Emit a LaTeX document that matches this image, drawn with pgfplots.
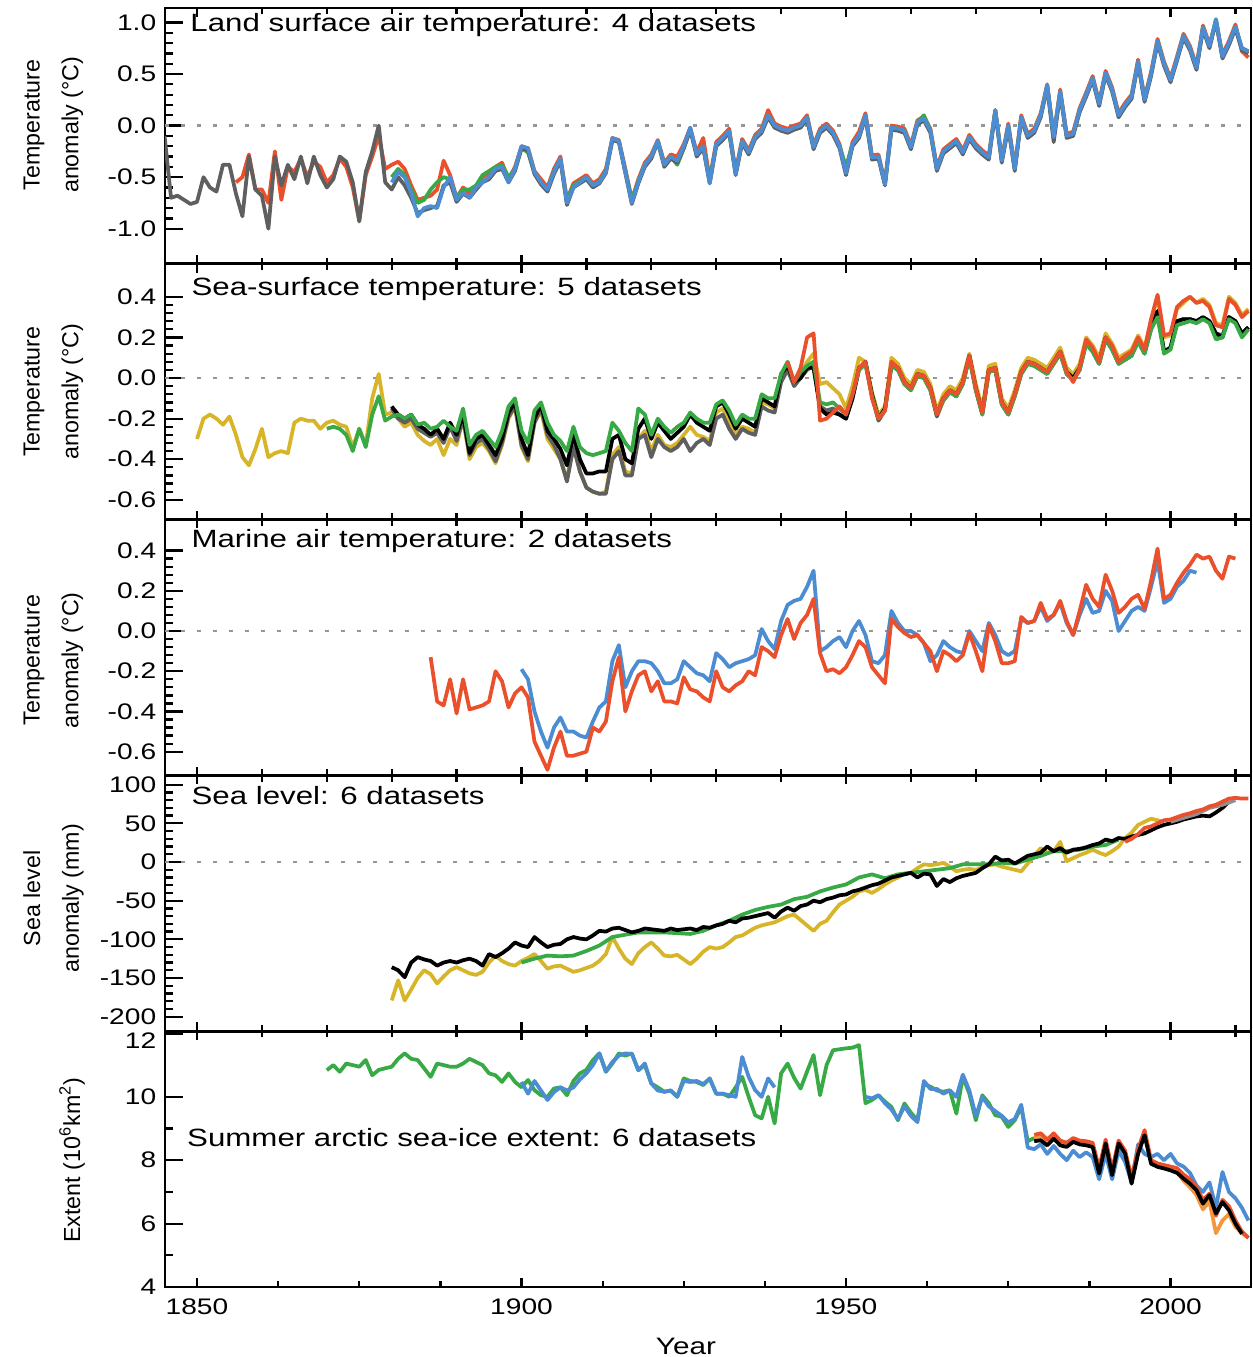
\documentclass[border=0pt]{standalone}
\usepackage{fontspec}
\setmainfont{Liberation Sans}
\newfontfamily\wide{Liberation Sans}[FakeStretch=1.25]
\usepackage{pgfplots}
\usepackage{pgfplotstable}
\pgfplotsset{compat=1.18}
\definecolor{cred}{RGB}{235,80,45}
\definecolor{cblue}{RGB}{75,140,210}
\definecolor{cgreen}{RGB}{55,170,70}
\definecolor{cgray}{RGB}{95,95,95}
\definecolor{cyellow}{RGB}{215,180,40}
\definecolor{corange}{RGB}{245,150,60}
\definecolor{cdot}{RGB}{150,150,150}

\pgfplotstableread{
year gray red green blue
1845 -0.10 nan nan nan
1846 -0.70 nan nan nan
1847 -0.68 nan nan nan
1848 -0.72 nan nan nan
1849 -0.76 nan nan nan
1850 -0.74 nan nan nan
1851 -0.50 nan nan nan
1852 -0.60 nan nan nan
1853 -0.64 nan nan nan
1854 -0.38 nan nan nan
1855 -0.38 nan nan nan
1856 -0.66 -0.55 nan nan
1857 -0.88 -0.50 nan nan
1858 -0.30 -0.28 nan nan
1859 -0.62 -0.62 nan nan
1860 -0.68 -0.62 nan nan
1861 -1.00 -0.75 nan nan
1862 -0.30 -0.25 nan nan
1863 -0.58 -0.72 nan nan
1864 -0.38 -0.40 nan nan
1865 -0.52 -0.45 nan nan
1866 -0.30 -0.32 nan nan
1867 -0.56 -0.50 nan nan
1868 -0.30 -0.35 nan nan
1869 -0.48 -0.40 nan nan
1870 -0.60 -0.55 nan nan
1871 -0.52 -0.48 nan nan
1872 -0.30 -0.32 nan nan
1873 -0.35 -0.40 nan nan
1874 -0.55 -0.60 nan nan
1875 -0.93 -0.92 nan nan
1876 -0.45 -0.48 nan nan
1877 -0.25 -0.30 nan nan
1878 0.00 -0.10 nan nan
1879 -0.55 -0.42 nan nan
1880 -0.62 -0.38 -0.50 -0.55
1881 -0.50 -0.35 -0.42 -0.45
1882 -0.58 -0.42 -0.48 -0.50
1883 -0.70 -0.58 -0.62 -0.65
1884 -0.85 -0.72 -0.75 -0.88
1885 -0.82 -0.70 -0.72 -0.80
1886 -0.80 -0.68 -0.62 -0.78
1887 -0.78 -0.62 -0.55 -0.80
1888 -0.58 -0.34 -0.50 -0.60
1889 -0.55 -0.48 -0.52 -0.50
1890 -0.74 -0.70 -0.70 -0.72
1891 -0.66 -0.60 -0.62 -0.65
1892 -0.70 -0.66 -0.62 -0.70
1893 -0.62 -0.62 -0.58 -0.60
1894 -0.55 -0.50 -0.48 -0.55
1895 -0.52 -0.46 -0.44 -0.50
1896 -0.44 -0.40 -0.40 -0.42
1897 -0.42 -0.36 -0.38 -0.40
1898 -0.55 -0.52 -0.50 -0.55
1899 -0.44 -0.40 -0.42 -0.42
1900 -0.22 -0.20 -0.22 -0.20
1901 -0.24 -0.22 -0.26 -0.22
1902 -0.47 -0.44 -0.46 -0.45
1903 -0.57 -0.52 -0.55 -0.55
1904 -0.64 -0.60 -0.62 -0.62
1905 -0.47 -0.42 -0.44 -0.45
1906 -0.34 -0.30 -0.33 -0.32
1907 -0.77 -0.72 -0.72 -0.75
1908 -0.60 -0.56 -0.58 -0.60
1909 -0.56 -0.52 -0.54 -0.55
1910 -0.52 -0.48 -0.50 -0.50
1911 -0.60 -0.56 -0.58 -0.58
1912 -0.56 -0.52 -0.54 -0.55
1913 -0.46 -0.42 -0.44 -0.45
1914 -0.14 -0.12 -0.14 -0.12
1915 -0.16 -0.14 -0.15 -0.15
1916 -0.46 -0.42 -0.44 -0.45
1917 -0.76 -0.72 -0.72 -0.75
1918 -0.56 -0.52 -0.54 -0.55
1919 -0.40 -0.36 -0.38 -0.38
1920 -0.32 -0.28 -0.30 -0.30
1921 -0.16 -0.14 -0.15 -0.15
1922 -0.40 -0.36 -0.38 -0.38
1923 -0.32 -0.28 -0.30 -0.30
1924 -0.36 -0.30 -0.38 -0.34
1925 -0.22 -0.18 -0.22 -0.20
1926 -0.04 -0.02 -0.04 -0.02
1927 -0.30 -0.26 -0.28 -0.28
1928 -0.22 -0.12 -0.20 -0.20
1929 -0.56 -0.52 -0.54 -0.56
1930 -0.20 -0.16 -0.18 -0.18
1931 -0.14 -0.10 -0.12 -0.12
1932 -0.07 -0.03 -0.06 -0.05
1933 -0.48 -0.44 -0.46 -0.47
1934 -0.17 -0.13 -0.15 -0.15
1935 -0.28 -0.24 -0.26 -0.26
1936 -0.13 -0.09 -0.11 -0.11
1937 -0.07 -0.03 -0.05 -0.05
1938 0.08 0.15 0.10 0.10
1939 -0.02 0.02 0.00 0.00
1940 -0.05 -0.01 -0.04 -0.03
1941 -0.07 -0.03 -0.06 -0.05
1942 -0.04 0.00 -0.03 -0.02
1943 -0.02 0.02 0.00 0.00
1944 0.06 0.10 0.08 0.08
1945 -0.23 -0.19 -0.21 -0.21
1946 -0.07 -0.03 -0.05 -0.05
1947 -0.02 0.02 0.00 0.00
1948 -0.09 -0.05 -0.07 -0.07
1949 -0.22 -0.18 -0.20 -0.20
1950 -0.48 -0.44 -0.40 -0.46
1951 -0.20 -0.16 -0.18 -0.18
1952 -0.12 -0.06 -0.10 -0.10
1953 0.08 0.12 0.10 0.10
1954 -0.33 -0.29 -0.31 -0.31
1955 -0.32 -0.28 -0.30 -0.30
1956 -0.58 -0.55 -0.57 -0.57
1957 -0.04 0.00 -0.02 -0.02
1958 -0.05 -0.01 -0.03 -0.03
1959 -0.07 -0.03 -0.05 -0.05
1960 -0.23 -0.19 -0.21 -0.21
1961 0.01 0.05 0.03 0.03
1962 0.05 0.09 0.10 0.07
1963 -0.07 -0.03 -0.05 -0.05
1964 -0.44 -0.40 -0.42 -0.42
1965 -0.27 -0.23 -0.25 -0.25
1966 -0.22 -0.18 -0.20 -0.20
1967 -0.17 -0.13 -0.15 -0.15
1968 -0.28 -0.24 -0.26 -0.26
1969 -0.13 -0.09 -0.11 -0.11
1970 -0.22 -0.18 -0.20 -0.20
1971 -0.28 -0.24 -0.26 -0.26
1972 -0.33 -0.29 -0.31 -0.31
1973 0.13 0.15 0.15 0.15
1974 -0.36 -0.32 -0.34 -0.34
1975 -0.02 0.02 0.00 0.00
1976 -0.44 -0.40 -0.42 -0.42
1977 0.06 0.10 0.08 0.08
1978 -0.12 -0.08 -0.10 -0.10
1979 -0.07 -0.03 -0.05 -0.05
1980 0.08 0.12 0.10 0.10
1981 0.37 0.40 0.39 0.39
1982 -0.16 -0.09 -0.11 -0.11
1983 0.31 0.35 0.33 0.33
1984 -0.12 -0.08 -0.10 -0.10
1985 -0.10 -0.06 -0.08 -0.08
1986 0.13 0.17 0.15 0.15
1987 0.28 0.32 0.30 0.30
1988 0.44 0.48 0.46 0.46
1989 0.19 0.23 0.21 0.21
1990 0.49 0.53 0.51 0.51
1991 0.33 0.37 0.35 0.35
1992 0.08 0.12 0.10 0.10
1993 0.18 0.22 0.20 0.20
1994 0.26 0.30 0.28 0.28
1995 0.60 0.64 0.62 0.62
1996 0.23 0.27 0.25 0.25
1997 0.48 0.52 0.50 0.50
1998 0.80 0.84 0.82 0.82
1999 0.58 0.62 0.60 0.60
2000 0.42 0.46 0.44 0.44
2001 0.63 0.67 0.65 0.65
2002 0.85 0.89 0.87 0.87
2003 0.73 0.77 0.75 0.75
2004 0.54 0.58 0.56 0.56
2005 0.93 0.97 0.95 0.95
2006 0.75 0.79 0.77 0.77
2007 1.01 1.00 1.03 1.03
2008 0.65 0.69 0.67 0.67
2009 0.78 0.82 0.80 0.80
2010 0.94 0.98 0.96 0.96
2011 0.73 0.72 0.75 0.75
2012 0.70 0.66 0.72 0.72
}\landtab

\pgfplotstableread{
year yellow green gray black red
1850 -0.30 nan nan nan nan
1851 -0.20 nan nan nan nan
1852 -0.18 nan nan nan nan
1853 -0.20 nan nan nan nan
1854 -0.23 nan nan nan nan
1855 -0.19 nan nan nan nan
1856 -0.28 nan nan nan nan
1857 -0.39 nan nan nan nan
1858 -0.43 nan nan nan nan
1859 -0.35 nan nan nan nan
1860 -0.25 nan nan nan nan
1861 -0.39 nan nan nan nan
1862 -0.37 nan nan nan nan
1863 -0.36 nan nan nan nan
1864 -0.37 nan nan nan nan
1865 -0.22 nan nan nan nan
1866 -0.20 nan nan nan nan
1867 -0.21 nan nan nan nan
1868 -0.21 nan nan nan nan
1869 -0.25 nan nan nan nan
1870 -0.22 -0.25 nan nan nan
1871 -0.21 -0.24 nan nan nan
1872 -0.23 -0.25 nan nan nan
1873 -0.24 -0.28 nan nan nan
1874 -0.34 -0.36 nan nan nan
1875 -0.25 -0.25 nan nan nan
1876 -0.33 -0.34 nan nan nan
1877 -0.10 -0.18 nan nan nan
1878 0.02 -0.09 nan nan nan
1879 -0.18 -0.21 nan nan nan
1880 -0.17 -0.19 -0.15 -0.14 nan
1881 -0.20 -0.18 -0.20 -0.18 nan
1882 -0.24 -0.20 -0.22 -0.20 nan
1883 -0.22 -0.18 -0.20 -0.18 nan
1884 -0.28 -0.23 -0.25 -0.23 nan
1885 -0.31 -0.22 -0.27 -0.25 nan
1886 -0.33 -0.25 -0.29 -0.28 nan
1887 -0.30 -0.24 -0.27 -0.25 nan
1888 -0.38 -0.21 -0.32 -0.30 nan
1889 -0.30 -0.24 -0.24 -0.22 nan
1890 -0.33 -0.26 -0.31 -0.28 nan
1891 -0.20 -0.15 -0.20 -0.18 nan
1892 -0.40 -0.33 -0.38 -0.37 nan
1893 -0.34 -0.28 -0.32 -0.30 nan
1894 -0.32 -0.26 -0.30 -0.28 nan
1895 -0.36 -0.30 -0.35 -0.33 nan
1896 -0.42 -0.34 -0.41 -0.38 nan
1897 -0.33 -0.26 -0.32 -0.30 nan
1898 -0.20 -0.14 -0.19 -0.17 nan
1899 -0.14 -0.10 -0.14 -0.12 nan
1900 -0.34 -0.26 -0.33 -0.30 nan
1901 -0.41 -0.32 -0.40 -0.38 nan
1902 -0.22 -0.16 -0.22 -0.20 nan
1903 -0.16 -0.12 -0.15 -0.13 nan
1904 -0.30 -0.22 -0.28 -0.26 nan
1905 -0.35 -0.28 -0.33 -0.30 nan
1906 -0.40 -0.31 -0.40 -0.35 nan
1907 -0.50 -0.36 -0.51 -0.43 nan
1908 -0.33 -0.24 -0.34 -0.28 nan
1909 -0.46 -0.34 -0.46 -0.40 nan
1910 -0.54 -0.37 -0.54 -0.47 nan
1911 -0.56 -0.38 -0.56 -0.47 nan
1912 -0.57 -0.37 -0.57 -0.46 nan
1913 -0.56 -0.36 -0.57 -0.46 nan
1914 -0.38 -0.22 -0.40 -0.30 nan
1915 -0.34 -0.26 -0.36 -0.28 nan
1916 -0.46 -0.32 -0.48 -0.40 nan
1917 -0.47 -0.36 -0.48 -0.42 nan
1918 -0.30 -0.15 -0.30 -0.25 nan
1919 -0.26 -0.18 -0.28 -0.20 nan
1920 -0.36 -0.28 -0.39 -0.30 nan
1921 -0.28 -0.20 -0.30 -0.22 nan
1922 -0.33 -0.24 -0.34 -0.26 nan
1923 -0.34 -0.27 -0.36 -0.30 nan
1924 -0.32 -0.24 -0.34 -0.27 nan
1925 -0.28 -0.22 -0.30 -0.24 nan
1926 -0.24 -0.17 -0.36 -0.18 nan
1927 -0.28 -0.20 -0.32 -0.22 nan
1928 -0.29 -0.22 -0.30 -0.24 nan
1929 -0.31 -0.22 -0.33 -0.26 nan
1930 -0.17 -0.13 -0.20 -0.14 nan
1931 -0.15 -0.11 -0.18 -0.12 nan
1932 -0.22 -0.16 -0.25 -0.18 nan
1933 -0.28 -0.23 -0.30 -0.25 nan
1934 -0.24 -0.18 -0.25 -0.20 nan
1935 -0.25 -0.20 -0.27 -0.22 nan
1936 -0.27 -0.20 -0.28 -0.24 nan
1937 -0.12 -0.08 -0.14 -0.10 nan
1938 -0.13 -0.10 -0.16 -0.12 nan
1939 -0.15 -0.10 -0.17 -0.14 nan
1940 0.00 0.02 -0.02 0.02 nan
1941 0.06 0.08 0.04 0.06 0.08
1942 -0.02 -0.02 -0.04 -0.02 -0.02
1943 0.02 0.03 0.00 0.00 0.05
1944 0.08 0.06 0.04 0.05 0.20
1945 0.12 0.08 0.06 0.05 0.22
1946 -0.03 -0.12 -0.14 -0.15 -0.21
1947 -0.02 -0.13 -0.16 -0.18 -0.20
1948 -0.05 -0.12 -0.15 -0.17 -0.17
1949 -0.08 -0.15 -0.18 -0.18 -0.14
1950 -0.15 -0.18 -0.20 -0.20 -0.18
1951 -0.04 -0.08 -0.10 -0.10 -0.08
1952 0.10 0.04 0.04 0.05 0.05
1953 0.08 0.07 0.07 0.08 0.08
1954 -0.07 -0.09 -0.09 -0.08 -0.10
1955 -0.18 -0.20 -0.21 -0.20 -0.20
1956 -0.14 -0.16 -0.16 -0.15 -0.16
1957 0.10 0.06 0.06 0.07 0.08
1958 0.07 0.04 0.04 0.05 0.05
1959 0.00 -0.03 -0.03 -0.02 -0.02
1960 -0.03 -0.06 -0.06 -0.05 -0.05
1961 0.04 0.01 0.01 0.02 0.02
1962 0.03 0.00 0.00 0.01 0.01
1963 -0.03 -0.06 -0.06 -0.05 -0.05
1964 -0.16 -0.18 -0.19 -0.18 -0.18
1965 -0.08 -0.11 -0.11 -0.10 -0.10
1966 -0.04 -0.07 -0.07 -0.06 -0.06
1967 -0.06 -0.09 -0.09 -0.08 -0.08
1968 0.00 -0.03 -0.03 -0.02 -0.02
1969 0.12 0.10 0.10 0.11 0.11
1970 -0.03 -0.06 -0.06 -0.05 -0.05
1971 -0.15 -0.18 -0.18 -0.17 -0.17
1972 0.06 0.03 0.03 0.04 0.04
1973 0.07 0.04 0.04 0.05 0.05
1974 -0.10 -0.13 -0.13 -0.12 -0.12
1975 -0.15 -0.18 -0.18 -0.17 -0.17
1976 -0.06 -0.09 -0.09 -0.08 -0.08
1977 0.05 0.02 0.02 0.03 0.03
1978 0.10 0.07 0.07 0.08 0.08
1979 0.09 0.06 0.06 0.07 0.07
1980 0.07 0.04 0.04 0.05 0.05
1981 0.05 0.02 0.02 0.03 0.03
1982 0.10 0.07 0.07 0.08 0.08
1983 0.15 0.12 0.12 0.13 0.13
1984 0.05 0.02 0.02 0.03 0.03
1985 0.02 -0.01 -0.01 0.00 -0.02
1986 0.07 0.04 0.04 0.05 0.05
1987 0.20 0.17 0.17 0.18 0.19
1988 0.16 0.13 0.13 0.14 0.15
1989 0.10 0.07 0.07 0.08 0.08
1990 0.22 0.19 0.19 0.20 0.20
1991 0.17 0.14 0.14 0.15 0.16
1992 0.10 0.07 0.07 0.08 0.08
1993 0.12 0.09 0.09 0.10 0.11
1994 0.14 0.11 0.11 0.12 0.13
1995 0.21 0.18 0.18 0.19 0.20
1996 0.15 0.12 0.12 0.13 0.14
1997 0.28 0.24 0.24 0.25 0.29
1998 0.40 0.30 0.32 0.33 0.41
1999 0.20 0.12 0.13 0.13 0.21
2000 0.21 0.14 0.15 0.15 0.22
2001 0.34 0.26 0.28 0.28 0.35
2002 0.37 0.27 0.29 0.29 0.38
2003 0.40 0.28 0.29 0.29 0.40
2004 0.37 0.27 0.28 0.28 0.37
2005 0.39 0.29 0.30 0.30 0.38
2006 0.36 0.27 0.28 0.28 0.35
2007 0.27 0.19 0.22 0.22 0.26
2008 0.26 0.20 0.21 0.20 0.25
2009 0.40 0.29 0.30 0.30 0.39
2010 0.37 0.27 0.28 0.28 0.36
2011 0.31 0.20 0.22 0.22 0.30
2012 0.34 0.24 0.25 0.25 0.33
}\ssttab

\tikzset{
  ttl/.style={anchor=west, inner sep=0pt, font=\wide\fontsize{10}{12}\selectfont},
  zeroline/.style={cdot, line width=1.1pt, dash pattern=on 1.6pt off 4.8pt},
}
\pgfplotsset{
  panel/.style={
    scale only axis, width=434.4pt, height=102.32pt,
    xmin=1845.07, xmax=2012.4,
    xtick={1850,1900,1950,2000},
    minor xtick={1860,1870,1880,1890,1910,1920,1930,1940,1960,1970,1980,1990,2010},
    xticklabels={},
    ytick pos=left,
    axis line style={line width=1.1pt},
    every tick/.style={black, line width=0.9pt},
    major tick length=7pt, minor tick length=3.3pt,
    xtick style={/pgfplots/major tick length=3.5pt,/pgfplots/minor tick length=2.5pt},
    tick label style={font=\wide\fontsize{9}{10}\selectfont},
    /pgf/number format/assume math mode=true,
    unbounded coords=jump,
    every axis plot/.append style={line width=1.5pt, line join=round},
    ylabel style={font=\fontsize{9.3}{15.5}\selectfont, align=center, anchor=center},
  },
  onedec/.style={yticklabel style={/pgf/number format/.cd, fixed, fixed zerofill, precision=1}},
}

\begin{document}
\begin{tikzpicture}
\path[use as bounding box] (0,0) rectangle (500.8pt,-542.8pt);

% Panel 1
\begin{axis}[panel, onedec, at={(66pt,-3.2pt)}, anchor=north west,
  ymin=-1.34, ymax=1.14, ytick={-1,-0.5,0,0.5,1}, minor y tick num=4,
  ylabel={Temperature\\anomaly (\textdegree C)},
  ylabel style={at={(axis description cs:-0.1027,0.543)}}]
\addplot[zeroline] coordinates {(1845.07,0) (2012.4,0)};
\addplot[cred] table[x=year,y=red] {\landtab};
\addplot[cgreen] table[x=year,y=green] {\landtab};
\addplot[cgray] table[x=year,y=gray] {\landtab};
\addplot[cblue] table[x=year,y=blue] {\landtab};
\node[ttl] at (rel axis cs:0.023,0.934) {Land surface air temperature: 4 datasets};
\end{axis}

% Panel 2
\begin{axis}[panel, onedec, at={(66pt,-105.52pt)}, anchor=north west,
  ymin=-0.6975, ymax=0.5626, ytick={-0.6,-0.4,-0.2,0,0.2,0.4}, minor y tick num=4,
  ylabel={Temperature\\anomaly (\textdegree C)},
  ylabel style={at={(axis description cs:-0.1027,0.50)}}]
\addplot[zeroline] coordinates {(1845.07,0) (2012.4,0)};
\addplot[cyellow] table[x=year,y=yellow] {\ssttab};
\addplot[cgray] table[x=year,y=gray] {\ssttab};
\addplot[black] table[x=year,y=black] {\ssttab};
\addplot[cgreen] table[x=year,y=green] {\ssttab};
\addplot[cred] table[x=year,y=red] {\ssttab};
\node[ttl] at (rel axis cs:0.024,0.901) {Sea-surface temperature: 5 datasets};
\end{axis}

% Panel 3
\begin{axis}[panel, onedec, at={(66pt,-207.84pt)}, anchor=north west,
  ymin=-0.718, ymax=0.554, ytick={-0.6,-0.4,-0.2,0,0.2,0.4}, minor y tick num=4,
  ylabel={Temperature\\anomaly (\textdegree C)},
  ylabel style={at={(axis description cs:-0.1027,0.45)}}]
\addplot[zeroline] coordinates {(1845.07,0) (2012.4,0)};
\addplot[cblue] coordinates {
(1900,-0.19) (1901,-0.24) (1902,-0.40) (1903,-0.50) (1904,-0.58) (1905,-0.48) (1906,-0.43) (1907,-0.50) (1908,-0.50) (1909,-0.52)
(1910,-0.53) (1911,-0.45) (1912,-0.38) (1913,-0.35) (1914,-0.15) (1915,-0.07) (1916,-0.28) (1917,-0.20) (1918,-0.15) (1919,-0.15)
(1920,-0.16) (1921,-0.20) (1922,-0.26) (1923,-0.26) (1924,-0.24) (1925,-0.15) (1926,-0.18) (1927,-0.21) (1928,-0.22) (1929,-0.25)
(1930,-0.11) (1931,-0.14) (1932,-0.18) (1933,-0.16) (1934,-0.15) (1935,-0.14) (1936,-0.12) (1937,0.01) (1938,-0.05) (1939,-0.09)
(1940,0.05) (1941,0.13) (1942,0.15) (1943,0.16) (1944,0.22) (1945,0.30) (1946,-0.10) (1947,-0.08) (1948,-0.05) (1949,-0.03)
(1950,-0.08) (1951,0.00) (1952,0.05) (1953,-0.02) (1954,-0.15) (1955,-0.16) (1956,-0.12) (1957,0.10) (1958,0.04) (1959,0.00)
(1960,0.00) (1961,-0.02) (1962,-0.06) (1963,-0.15) (1964,-0.12) (1965,-0.05) (1966,-0.08) (1967,-0.10) (1968,-0.11) (1969,0.00)
(1970,-0.05) (1971,-0.10) (1972,0.04) (1973,-0.02) (1974,-0.10) (1975,-0.12) (1976,-0.10) (1977,0.06) (1978,0.04) (1979,0.05)
(1980,0.12) (1981,0.05) (1982,0.08) (1983,0.14) (1984,0.04) (1985,-0.02) (1986,0.08) (1987,0.16) (1988,0.09) (1989,0.10)
(1990,0.20) (1991,0.15) (1992,0.00) (1993,0.05) (1994,0.10) (1995,0.12) (1996,0.10) (1997,0.22) (1998,0.35) (1999,0.14)
(2000,0.16) (2001,0.22) (2002,0.25) (2003,0.30) (2004,0.29)};
\addplot[cred] coordinates {
(1886,-0.13) (1887,-0.35) (1888,-0.37) (1889,-0.24) (1890,-0.41) (1891,-0.24) (1892,-0.39) (1893,-0.38) (1894,-0.37) (1895,-0.35)
(1896,-0.20) (1897,-0.25) (1898,-0.38) (1899,-0.31) (1900,-0.28) (1901,-0.33) (1902,-0.55) (1903,-0.62) (1904,-0.69) (1905,-0.58)
(1906,-0.50) (1907,-0.62) (1908,-0.62) (1909,-0.61) (1910,-0.60) (1911,-0.48) (1912,-0.50) (1913,-0.45) (1914,-0.25) (1915,-0.13)
(1916,-0.40) (1917,-0.30) (1918,-0.22) (1919,-0.20) (1920,-0.30) (1921,-0.25) (1922,-0.35) (1923,-0.35) (1924,-0.36) (1925,-0.23)
(1926,-0.29) (1927,-0.30) (1928,-0.33) (1929,-0.35) (1930,-0.20) (1931,-0.28) (1932,-0.30) (1933,-0.27) (1934,-0.25) (1935,-0.20)
(1936,-0.22) (1937,-0.08) (1938,-0.10) (1939,-0.13) (1940,-0.02) (1941,0.06) (1942,-0.04) (1943,0.04) (1944,0.08) (1945,0.16)
(1946,-0.11) (1947,-0.20) (1948,-0.19) (1949,-0.21) (1950,-0.18) (1951,-0.12) (1952,-0.05) (1953,-0.08) (1954,-0.18) (1955,-0.22)
(1956,-0.26) (1957,0.06) (1958,0.02) (1959,-0.01) (1960,-0.03) (1961,-0.02) (1962,-0.06) (1963,-0.10) (1964,-0.20) (1965,-0.10)
(1966,-0.12) (1967,-0.15) (1968,-0.12) (1969,-0.01) (1970,-0.10) (1971,-0.20) (1972,0.03) (1973,-0.05) (1974,-0.16) (1975,-0.16)
(1976,-0.15) (1977,0.07) (1978,0.04) (1979,0.05) (1980,0.14) (1981,0.06) (1982,0.08) (1983,0.15) (1984,0.05) (1985,-0.02)
(1986,0.10) (1987,0.23) (1988,0.16) (1989,0.12) (1990,0.28) (1991,0.20) (1992,0.09) (1993,0.12) (1994,0.16) (1995,0.18)
(1996,0.11) (1997,0.25) (1998,0.41) (1999,0.16) (2000,0.18) (2001,0.24) (2002,0.29) (2003,0.33) (2004,0.38) (2005,0.36)
(2006,0.37) (2007,0.30) (2008,0.26) (2009,0.37) (2010,0.36)};
\node[ttl] at (rel axis cs:0.024,0.916) {Marine air temperature: 2 datasets};
\end{axis}

% Panel 4
\begin{axis}[panel, at={(66pt,-310.16pt)}, anchor=north west,
  ymin=-218.8, ymax=112, ytick={-200,-150,-100,-50,0,50,100}, minor y tick num=4,
  ylabel={Sea level\\anomaly (mm)},
  ylabel style={at={(axis description cs:-0.1027,0.52)}}]
\addplot[zeroline] coordinates {(1845.07,0) (2012.4,0)};
\addplot[cyellow] coordinates {
(1880,-179) (1881,-153) (1882,-179) (1883,-165) (1884,-150) (1885,-140) (1886,-145) (1887,-157) (1888,-148) (1889,-140)
(1890,-136) (1891,-140) (1892,-144) (1893,-146) (1894,-142) (1895,-130) (1896,-121) (1897,-128) (1898,-132) (1899,-134)
(1900,-128) (1901,-124) (1902,-119) (1903,-128) (1904,-138) (1905,-135) (1906,-134) (1907,-138) (1908,-142) (1909,-140)
(1910,-137) (1911,-134) (1912,-128) (1913,-119) (1914,-97) (1915,-112) (1916,-125) (1917,-132) (1918,-118) (1919,-110)
(1920,-104) (1921,-112) (1922,-121) (1923,-122) (1924,-120) (1925,-126) (1926,-132) (1927,-125) (1928,-116) (1929,-110)
(1930,-112) (1931,-110) (1932,-104) (1933,-97) (1934,-95) (1935,-90) (1936,-85) (1937,-82) (1938,-80) (1939,-78)
(1940,-74) (1941,-70) (1942,-68) (1943,-75) (1944,-82) (1945,-89) (1946,-80) (1947,-76) (1948,-65) (1949,-55)
(1950,-50) (1951,-45) (1952,-38) (1953,-36) (1954,-40) (1955,-35) (1956,-29) (1957,-24) (1958,-20) (1959,-15)
(1960,-14) (1961,-8) (1962,-3) (1963,-4) (1964,-3) (1965,-1) (1966,-6) (1967,-12) (1968,-10) (1969,-9)
(1970,-10) (1971,-7) (1972,-4) (1973,-3) (1974,-6) (1975,-8) (1976,-10) (1977,-12) (1978,-2) (1979,8)
(1980,18) (1981,12) (1982,14) (1983,26) (1984,1) (1985,5) (1986,9) (1987,12) (1988,16) (1989,12)
(1990,9) (1991,14) (1992,20) (1993,31) (1994,38) (1995,48) (1996,52) (1997,56) (1998,54) (1999,52)};
\addplot[cgreen] coordinates {
(1900,-130) (1902,-125) (1904,-121) (1906,-122) (1908,-121) (1910,-115) (1912,-108) (1914,-97) (1916,-94) (1918,-91)
(1920,-91) (1922,-91) (1924,-92) (1926,-93) (1928,-89) (1930,-82) (1932,-76) (1934,-68) (1936,-62) (1938,-58)
(1940,-55) (1942,-48) (1944,-45) (1946,-38) (1948,-33) (1950,-29) (1952,-20) (1954,-16) (1956,-21) (1958,-16)
(1960,-14) (1962,-12) (1964,-10) (1966,-8) (1968,-3) (1970,-3) (1972,-3) (1974,-1) (1976,-2) (1978,3)
(1980,8) (1982,14) (1984,14) (1986,16) (1988,20) (1990,22) (1992,29)};
\addplot[black] coordinates {
(1880,-136) (1881,-140) (1882,-149) (1883,-130) (1884,-123) (1885,-126) (1886,-128) (1887,-134) (1888,-130) (1889,-128)
(1890,-130) (1891,-127) (1892,-125) (1893,-128) (1894,-134) (1895,-119) (1896,-123) (1897,-118) (1898,-112) (1899,-104)
(1900,-108) (1901,-110) (1902,-97) (1903,-104) (1904,-110) (1905,-107) (1906,-106) (1907,-100) (1908,-97) (1909,-99)
(1910,-100) (1911,-95) (1912,-89) (1913,-90) (1914,-86) (1915,-85) (1916,-88) (1917,-91) (1918,-89) (1919,-86)
(1920,-87) (1921,-88) (1922,-89) (1923,-86) (1924,-88) (1925,-87) (1926,-86) (1927,-88) (1928,-84) (1929,-85)
(1930,-82) (1931,-80) (1932,-76) (1933,-78) (1934,-73) (1935,-72) (1936,-70) (1937,-68) (1938,-66) (1939,-72)
(1940,-64) (1941,-59) (1942,-63) (1943,-57) (1944,-55) (1945,-50) (1946,-52) (1947,-48) (1948,-46) (1949,-43)
(1950,-42) (1951,-38) (1952,-36) (1953,-33) (1954,-30) (1955,-28) (1956,-24) (1957,-20) (1958,-18) (1959,-16)
(1960,-14) (1961,-20) (1962,-15) (1963,-16) (1964,-31) (1965,-22) (1966,-26) (1967,-21) (1968,-18) (1969,-16)
(1970,-14) (1971,-8) (1972,-3) (1973,7) (1974,2) (1975,3) (1976,-2) (1977,3) (1978,8) (1979,10)
(1980,12) (1981,20) (1982,14) (1983,18) (1984,12) (1985,16) (1986,17) (1987,19) (1988,22) (1989,24)
(1990,29) (1991,27) (1992,31) (1993,30) (1994,33) (1995,35) (1996,37) (1997,41) (1998,45) (1999,48)
(2000,50) (2001,52) (2002,55) (2003,57) (2004,59) (2005,60) (2006,59) (2007,64) (2008,70) (2009,78)};
\addplot[cgray!70] coordinates {(2000,52) (2002,57) (2004,62) (2006,70) (2008,74) (2010,80)};
\addplot[cred] coordinates {
(1993,26) (1994,30) (1995,36) (1996,44) (1997,46) (1998,50) (1999,54) (2000,55) (2001,58) (2002,61)
(2003,63) (2004,66) (2005,68) (2006,72) (2007,74) (2008,78) (2009,82) (2010,83) (2011,82) (2012,82)};
\node[ttl] at (rel axis cs:0.024,0.923) {Sea level: 6 datasets};
\end{axis}

% Panel 5
\begin{axis}[panel, at={(66pt,-412.48pt)}, anchor=north west,
  ymin=4, ymax=12.07, ytick={4,6,8,10}, minor y tick num=1,
  extra y ticks={12}, extra y tick style={yticklabel style={yshift=-3pt}},
  xtick pos=bottom,
  minor xtick={1862.5,1875,1887.5,1912.5,1925,1937.5,1962.5,1975,1987.5},
  xticklabels={1850,1900,1950,2000},
  xticklabel style={yshift=-1pt},
  ylabel={Extent (10\textsuperscript{6}km\textsuperscript{2})},
  ylabel style={at={(axis description cs:-0.0856,0.496)}},
  xlabel={Year},
  xlabel style={at={(axis description cs:0.4797,0)}, anchor=center, yshift=-23.6pt, font=\wide\fontsize{9.5}{11}\selectfont}]
\addplot[cgreen] coordinates {
(1870,10.84) (1871,11.00) (1872,10.79) (1873,11.05) (1874,11.00) (1875,10.95) (1876,11.16) (1877,10.68) (1878,10.85) (1879,10.90)
(1880,10.95) (1881,11.20) (1882,11.37) (1883,11.20) (1884,11.16) (1885,10.90) (1886,10.63) (1887,11.05) (1888,11.00) (1889,10.95)
(1890,10.95) (1891,11.05) (1892,11.20) (1893,11.10) (1894,11.00) (1895,10.74) (1896,10.68) (1897,10.47) (1898,10.74) (1899,10.47)
(1900,10.30) (1901,10.53) (1902,10.21) (1903,10.05) (1904,10.00) (1905,10.26) (1906,10.30) (1907,10.05) (1908,10.50) (1909,10.74)
(1910,10.85) (1911,11.16) (1912,11.37) (1913,10.79) (1914,11.05) (1915,11.37) (1916,11.30) (1917,11.37) (1918,10.84) (1919,11.00)
(1920,10.42) (1921,10.30) (1922,10.16) (1923,10.20) (1924,10.00) (1925,10.58) (1926,10.50) (1927,10.47) (1928,10.37) (1929,10.58)
(1930,10.10) (1931,10.10) (1932,10.00) (1933,10.30) (1934,10.63) (1935,10.00) (1936,9.42) (1937,9.32) (1938,10.00) (1939,9.16)
(1940,10.74) (1941,11.05) (1942,10.60) (1943,10.26) (1944,10.80) (1945,11.32) (1946,10.05) (1947,11.00) (1948,11.47) (1949,11.50)
(1950,11.53) (1951,11.55) (1952,11.63) (1953,9.80) (1954,9.90) (1955,10.05) (1956,9.85) (1957,9.68) (1958,9.26) (1959,9.79)
(1960,9.50) (1961,9.26) (1962,10.40) (1963,10.32) (1964,10.20) (1965,10.16) (1966,10.21) (1967,9.47) (1968,10.63) (1969,10.10)
(1970,9.26) (1971,10.05) (1972,9.80) (1973,9.42) (1974,9.37) (1975,9.05) (1976,9.26) (1977,9.68) (1978,8.60) (1979,8.70)};
\addplot[cblue] coordinates {
(1900,10.47) (1901,10.10) (1902,10.50) (1903,10.20) (1904,9.90) (1905,10.15) (1906,10.30) (1907,10.20) (1908,10.30) (1909,10.55)
(1910,10.74) (1911,11.00) (1912,11.37) (1913,10.80) (1914,11.10) (1915,11.30) (1916,11.37) (1917,11.35) (1918,10.84) (1919,11.05)
(1920,10.42) (1921,10.20) (1922,10.16) (1923,10.20) (1924,10.00) (1925,10.50) (1926,10.47) (1927,10.50) (1928,10.40) (1929,10.58)
(1930,10.10) (1931,10.10) (1932,10.05) (1933,10.00) (1934,11.26) (1935,10.63) (1936,10.21) (1937,10.00) (1938,10.58) (1939,10.30)
(1946,nan)
(1953,10.00) (1954,9.95) (1955,10.05) (1956,9.80) (1957,9.60) (1958,9.30) (1959,9.70) (1960,9.40) (1961,9.20) (1962,10.50)
(1963,10.25) (1964,10.25) (1965,10.10) (1966,10.20) (1967,10.00) (1968,10.70) (1969,10.20) (1970,9.40) (1971,10.00) (1972,9.70)
(1973,9.55) (1974,9.40) (1975,9.20) (1976,9.30) (1977,9.75) (1978,8.40) (1979,8.35) (1980,8.50) (1981,8.20) (1982,8.45)
(1983,8.20) (1984,8.00) (1985,8.30) (1986,8.10) (1987,8.25) (1988,8.10) (1989,7.40) (1990,8.20) (1991,7.40) (1992,8.30)
(1993,7.95) (1994,7.30) (1995,8.50) (1996,8.20) (1997,8.10) (1998,8.20) (1999,8.00) (2000,8.20) (2001,7.90) (2002,7.80)
(2003,7.60) (2004,7.20) (2005,7.00) (2006,7.30) (2007,6.50) (2008,7.63) (2009,7.00) (2010,6.80) (2011,6.50) (2012,6.10)};
\addplot[corange] coordinates {
(1979,8.70) (1980,8.75) (1981,8.55) (1982,8.75) (1983,8.55) (1984,8.48) (1985,8.62) (1986,8.55) (1987,8.52) (1988,8.48)
(1989,7.65) (1990,8.58) (1991,7.60) (1992,8.56) (1993,8.25) (1994,7.35) (1995,8.28) (1996,8.85) (1997,7.95) (1998,7.85)
(1999,7.80) (2000,7.75) (2001,7.65) (2002,7.35) (2003,7.15) (2004,6.90) (2005,6.45) (2006,6.70) (2007,5.70) (2008,6.10)
(2009,6.30) (2010,5.90) (2011,5.70) (2012,5.55)};
\addplot[cred] coordinates {
(1979,8.80) (1980,8.85) (1981,8.65) (1982,8.85) (1983,8.62) (1984,8.55) (1985,8.70) (1986,8.62) (1987,8.60) (1988,8.55)
(1989,7.75) (1990,8.65) (1991,7.70) (1992,8.62) (1993,8.30) (1994,7.45) (1995,8.35) (1996,8.95) (1997,8.00) (1998,7.90)
(1999,7.85) (2000,7.80) (2001,7.75) (2002,7.55) (2003,7.40) (2004,7.15) (2005,6.75) (2006,6.95) (2007,6.25) (2008,6.75)
(2009,6.55) (2010,6.10) (2011,5.75) (2012,5.55)};
\addplot[black] coordinates {
(1979,8.60) (1980,8.63) (1981,8.47) (1982,8.68) (1983,8.47) (1984,8.42) (1985,8.58) (1986,8.50) (1987,8.47) (1988,8.42)
(1989,7.58) (1990,8.53) (1991,7.53) (1992,8.53) (1993,8.21) (1994,7.26) (1995,8.20) (1996,8.79) (1997,7.89) (1998,7.79)
(1999,7.74) (2000,7.68) (2001,7.60) (2002,7.42) (2003,7.26) (2004,7.05) (2005,6.63) (2006,6.90) (2007,6.32) (2008,6.68)
(2009,6.42) (2010,6.00) (2011,5.68)};
\node[ttl] at (rel axis cs:0.020,0.586) {Summer arctic sea-ice extent: 6 datasets};
\end{axis}

% top ticks of panel 5
\begin{axis}[panel, at={(66pt,-412.48pt)}, anchor=north west,
  ymin=4, ymax=12.07, ytick=\empty, xtick pos=top]
\end{axis}
\end{tikzpicture}
\end{document}
